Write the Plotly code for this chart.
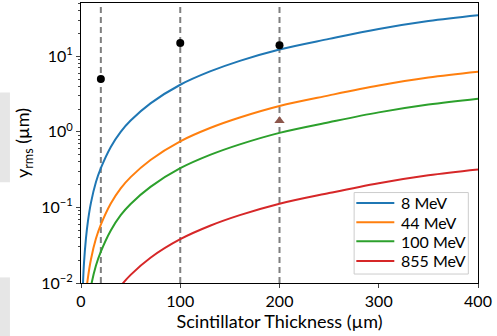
import plotly.graph_objects as go

x_8 = [1.5, 2, 3, 5, 7, 10, 15, 20, 30, 40, 50, 70, 100, 130, 160, 200, 250, 300, 350, 400]
y_8 = [0.0062, 0.0098, 0.0183, 0.039, 0.066, 0.115, 0.215, 0.33, 0.63, 1.0, 1.41, 2.38, 4.2, 6.3, 8.7, 12.3, 17.0, 23.0, 29.3, 35.0]

x_44 = [3, 5, 7, 10, 15, 20, 30, 40, 50, 70, 100, 130, 160, 200, 250, 300, 350, 400]
y_44 = [0.0033, 0.0070, 0.0118, 0.0205, 0.0384, 0.059, 0.1125, 0.179, 0.252, 0.425, 0.75, 1.125, 1.55, 2.2, 3.04, 4.1, 5.23, 6.25]

x_100 = [5, 7, 10, 15, 20, 30, 40, 50, 70, 100, 130, 160, 200, 250, 300, 350, 400]
y_100 = [0.0031, 0.0052, 0.0090, 0.0169, 0.026, 0.0496, 0.079, 0.111, 0.187, 0.33, 0.495, 0.683, 0.97, 1.34, 1.81, 2.3, 2.75]

x_855 = [20, 30, 40, 50, 70, 100, 130, 160, 200, 250, 300, 350, 400]
y_855 = [0.0030, 0.0057, 0.0091, 0.0128, 0.0216, 0.038, 0.0572, 0.079, 0.112, 0.155, 0.209, 0.266, 0.318]

series_names = ["8 MeV", "44 MeV", "100 MeV", "855 MeV"]
series_colors = ["#1f77b4", "#ff7f0e", "#2ca02c", "#d62728"]

meas_x = [20, 100, 200]
meas_y = [5.0, 15.0, 14.0]
tri_x = [200]
tri_y = [1.4]
vline_x = [20, 100, 200]

x_ticks = [0, 100, 200, 300, 400]
y_tickvals = [0.01, 0.1, 1, 10]
y_ticktext = ["10<sup>−2</sup>", "10<sup>−1</sup>", "10<sup>0</sup>", "10<sup>1</sup>"]

FONT = "Lato, Open Sans, DejaVu Sans, sans-serif"

fig = go.Figure()

for xs, ys, nm, col in zip([x_8, x_44, x_100, x_855], [y_8, y_44, y_100, y_855],
                           series_names, series_colors):
    fig.add_trace(go.Scatter(x=xs, y=ys, mode="lines", name=nm, showlegend=False,
                             line=dict(color=col, width=2, shape="spline", smoothing=1.0)))

for vx in vline_x:
    fig.add_shape(type="line", xref="x", yref="paper", x0=vx, x1=vx, y0=0, y1=1,
                  line=dict(color="#7f7f7f", width=2, dash="6px,4px"), layer="below")

# light grey page fragments at the left edge of the picture
fig.add_shape(type="rect", xref="paper", yref="paper", x0=-0.204, x1=-0.179,
              y0=0.36, y1=0.68, fillcolor="#e6e6e6", line=dict(width=0), layer="below")
fig.add_shape(type="rect", xref="paper", yref="paper", x0=-0.204, x1=-0.179,
              y0=-0.2, y1=0.02, fillcolor="#e6e6e6", line=dict(width=0), layer="below")

fig.add_trace(go.Scatter(x=meas_x, y=meas_y, mode="markers", showlegend=False,
                         marker=dict(color="black", size=8)))
fig.add_trace(go.Scatter(x=tri_x, y=tri_y, mode="markers", showlegend=False,
                         marker=dict(color="#8c564b", size=9, symbol="triangle-up")))

# legend box (matplotlib-style, compact spacing)
leg_x0, leg_x1, leg_y0, leg_y1 = 0.688, 0.9756, 0.032, 0.323
fig.add_shape(type="rect", xref="paper", yref="paper", x0=leg_x0, x1=leg_x1, y0=leg_y0, y1=leg_y1,
              fillcolor="rgba(255,255,255,0.85)", line=dict(color="#cccccc", width=1))
entry_y = [0.286, 0.217, 0.149, 0.079]
for nm, col, ey in zip(series_names, series_colors, entry_y):
    fig.add_shape(type="line", xref="paper", yref="paper", x0=0.6935, x1=0.7892, y0=ey, y1=ey,
                  line=dict(color=col, width=2))
    fig.add_annotation(xref="paper", yref="paper", x=0.8018, y=ey, text=nm, showarrow=False,
                       xanchor="left", yanchor="middle", font=dict(size=16, family=FONT))

fig.update_layout(
    width=497, height=336,
    margin=dict(l=81, r=19, t=3, b=53),
    paper_bgcolor="white", plot_bgcolor="white",
    font=dict(family=FONT, size=15, color="black"),
    showlegend=False,
)
fig.update_xaxes(range=[0, 400], tickvals=x_ticks, ticks="outside", ticklen=4,
                 tickfont=dict(size=16),
                 showgrid=False, zeroline=False, showline=True, linecolor="black",
                 linewidth=1, mirror=True, automargin=True,
                 title=dict(text="Scintillator Thickness (µm)", standoff=5))
fig.update_yaxes(type="log", range=[-2, 1.705], tickvals=y_tickvals, ticktext=y_ticktext,
                 ticks="outside", ticklen=4, tickfont=dict(size=16),
                 showgrid=False, zeroline=False,
                 showline=True, linecolor="black", linewidth=1, mirror=True, automargin=True,
                 minor=dict(ticks="outside", ticklen=2, dtick="D1", showgrid=False),
                 title=dict(text="y<sub>rms</sub> (µm)", standoff=6))

fig.write_html("out.html", config={"displayModeBar": False},
               post_script="document.body.style.margin='0';")
